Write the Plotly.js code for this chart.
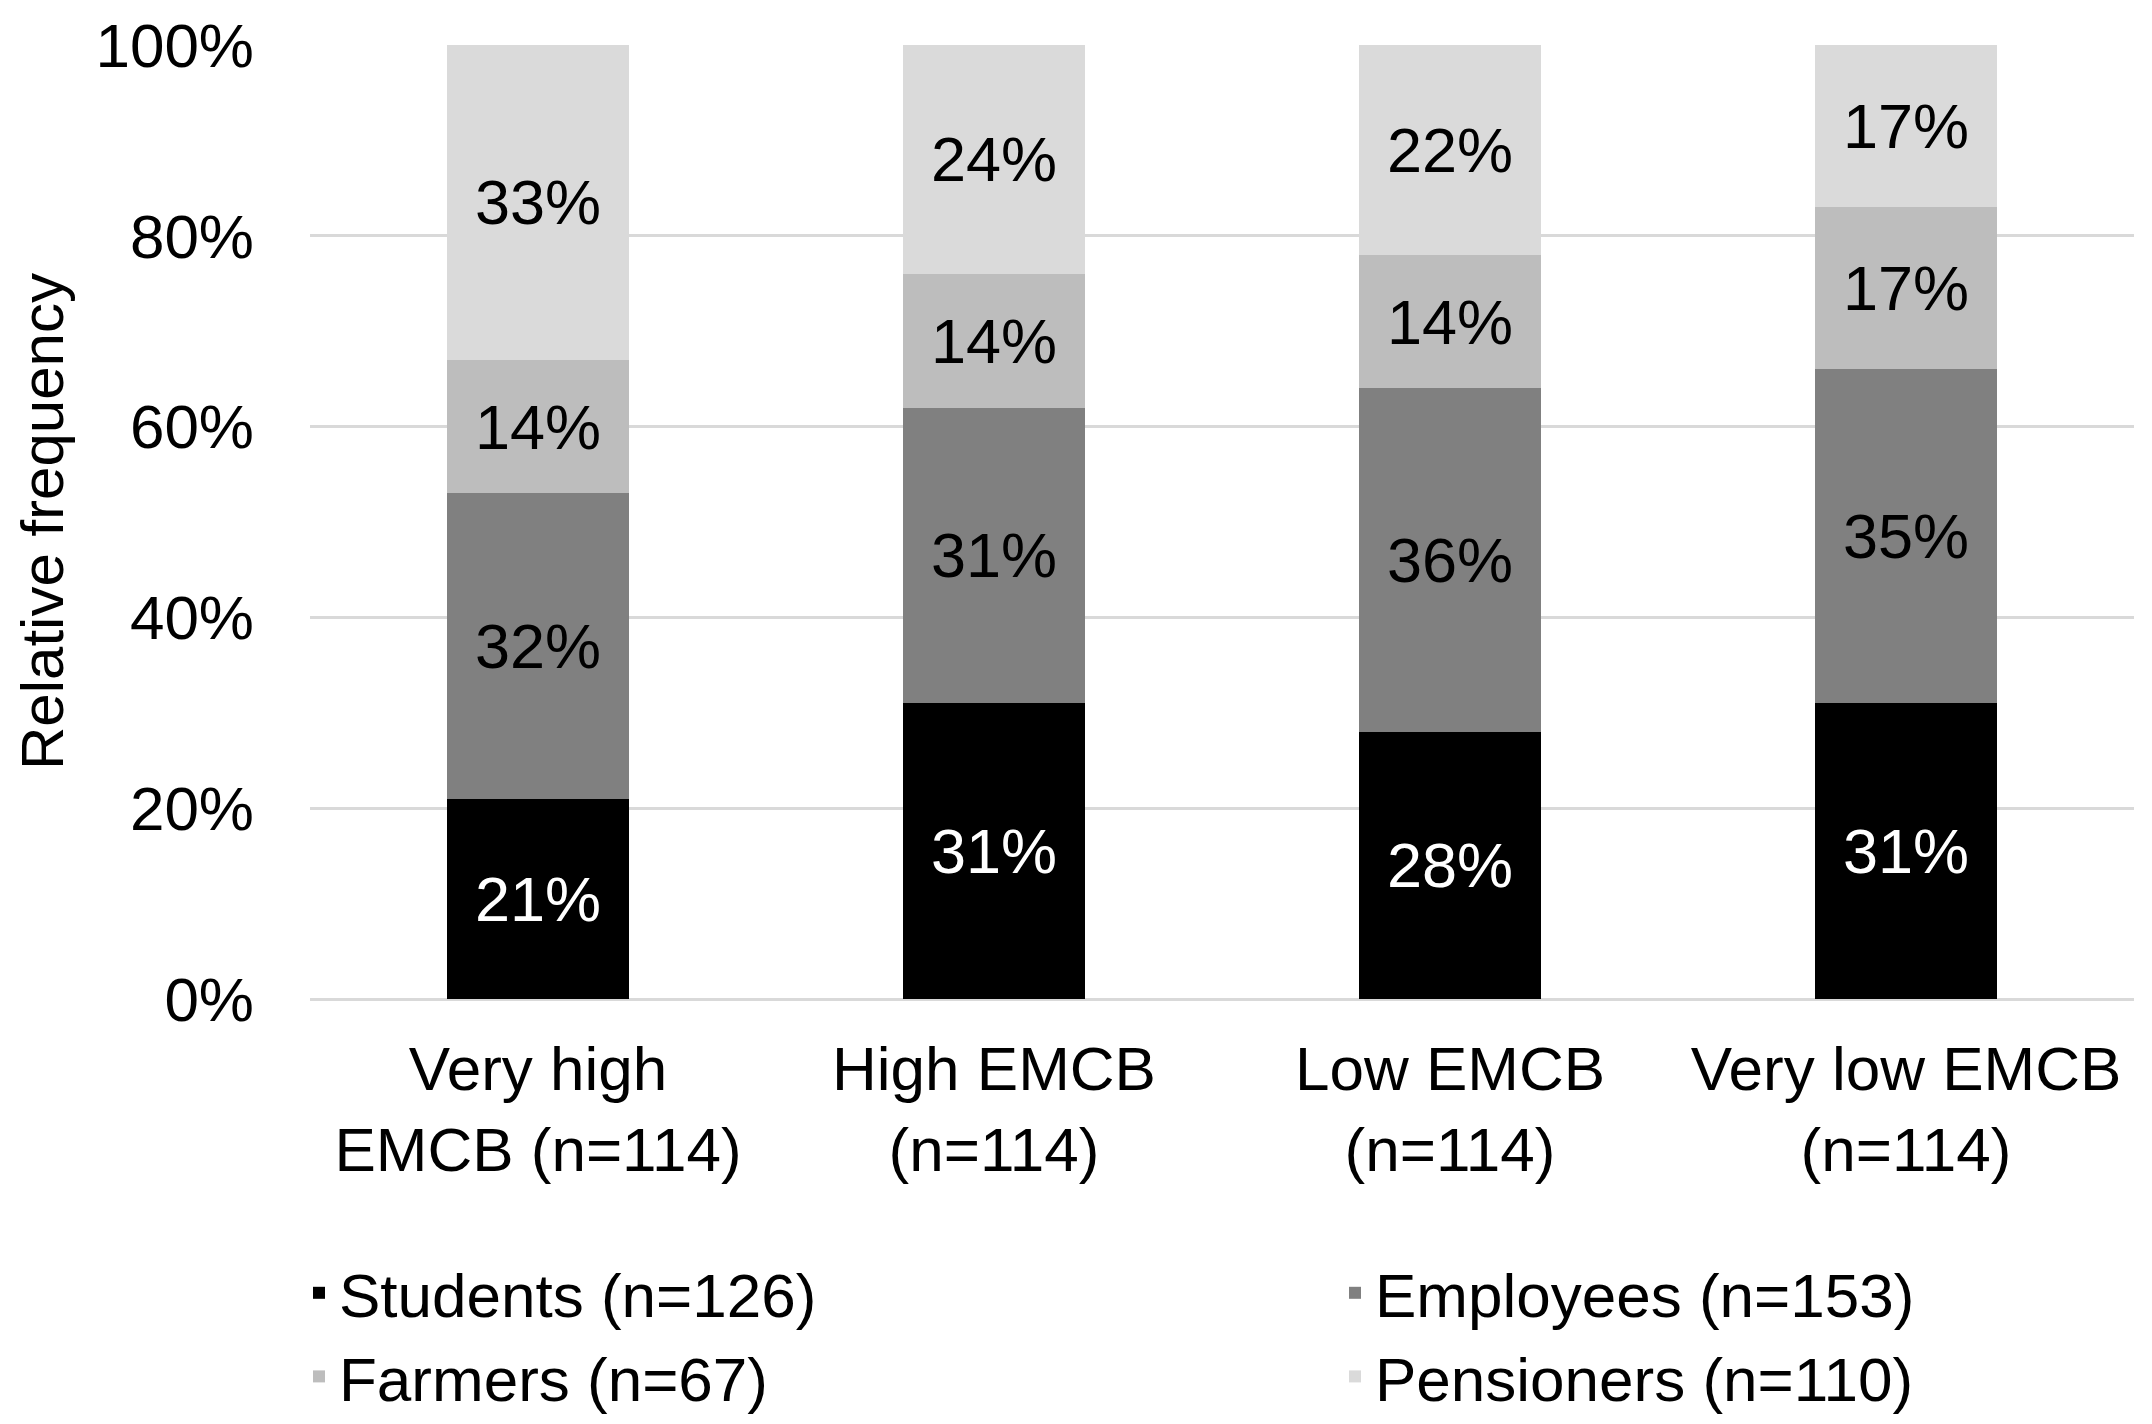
<!DOCTYPE html>
<html>
<head>
<meta charset="utf-8">
<script src="https://cdn.plot.ly/plotly-3.0.1.min.js"></script>
<style>
  body { margin: 0; background: white; }
  #chart { width: 2152px; height: 1424px; }
</style>
</head>
<body>
<div id="chart"></div>
<script>
// categories and shares (percent of each EMCB group)
var groups = ["Very high<br>EMCB (n=114)", "High EMCB<br>(n=114)", "Low EMCB<br>(n=114)", "Very low EMCB<br>(n=114)"];
var students = [21, 31, 28, 31];
var employees = [32, 31, 36, 35];
var farmers = [14, 14, 14, 17];
var pensioners = [33, 24, 22, 17];

var seriesNames = ["Students (n=126)", "Employees (n=153)", "Farmers (n=67)", "Pensioners (n=110)"];
var seriesColors = ["#000000", "#808080", "#bdbdbd", "#dadada"];
var labelColors = ["#ffffff", "#000000", "#000000", "#000000"];
// left legend column: students, farmers; right column: employees, pensioners
var legendOf = ["legend", "legend2", "legend", "legend2"];

function makeBar(vals, i) {
  return {
    type: "bar",
    x: groups,
    y: vals,
    name: seriesNames[i],
    legend: legendOf[i],
    marker: { color: seriesColors[i], line: { width: 0 } },
    text: vals.map(function (v) { return v + "%"; }),
    textposition: "inside",
    insidetextanchor: "middle",
    textangle: 0,
    textfont: { family: "Liberation Sans, Arial, sans-serif", size: 63, color: labelColors[i] },
    hoverinfo: "skip"
  };
}

var data = [
  makeBar(students, 0),
  makeBar(employees, 1),
  makeBar(farmers, 2),
  makeBar(pensioners, 3)
];

var legendBase = {
  orientation: "v",
  xref: "container", yref: "container",
  xanchor: "left",
  y: 1 - 1246 / 1424, yanchor: "top",
  traceorder: "normal",
  font: { size: 62, color: "#000000" },
  itemwidth: 30,
  bgcolor: "rgba(0,0,0,0)"
};

var layout = {
  width: 2152, height: 1424,
  margin: { l: 310, r: 18, t: 45, b: 425, autoexpand: false },
  paper_bgcolor: "white",
  plot_bgcolor: "white",
  barmode: "stack",
  bargap: 0.6,
  font: { family: "Liberation Sans, Arial, sans-serif", size: 62, color: "#000000" },
  xaxis: {
    showgrid: false,
    showline: false,
    zeroline: false,
    ticks: "",
    tickangle: 0,
    automargin: false,
    tickfont: { size: 62, color: "#000000" },
    ticklabelstandoff: 28
  },
  yaxis: {
    range: [0, 100],
    dtick: 20,
    ticksuffix: "%",
    showgrid: true,
    gridcolor: "#d9d9d9",
    gridwidth: 3,
    zeroline: true,
    zerolinecolor: "#d9d9d9",
    zerolinewidth: 3,
    showline: false,
    ticks: "",
    automargin: false,
    tickfont: { size: 62, color: "#000000" },
    ticklabelstandoff: 55
  },
  // y axis title as a rotated note, the built-in one lands inside the plot with two legends
  annotations: [{
    text: "Relative frequency",
    xref: "paper", yref: "paper",
    x: (42 - 310) / 1824, y: 0.5,
    xanchor: "center", yanchor: "middle",
    textangle: -90,
    showarrow: false,
    font: { size: 60, color: "#000000" }
  }],
  showlegend: true,
  legend: Object.assign({}, legendBase, { x: 299 / 2152 }),
  legend2: Object.assign({}, legendBase, { x: 1335 / 2152 })
};

Plotly.newPlot("chart", data, layout, { displayModeBar: false, staticPlot: true });
</script>
</body>
</html>
